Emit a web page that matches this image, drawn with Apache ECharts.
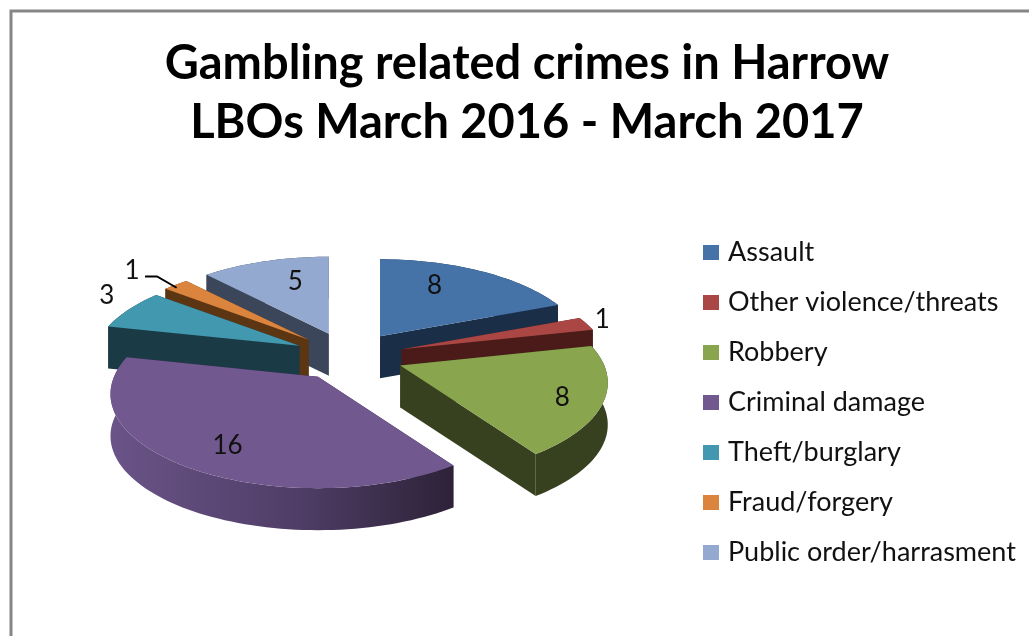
<!DOCTYPE html>
<html><head><meta charset="utf-8">
<style>html,body{margin:0;padding:0;background:#fff}#c{width:1029px;height:636px}</style>
<script src="https://cdn.jsdelivr.net/npm/echarts@6/dist/echarts.min.js"></script>
</head><body><div id="c"></div>
<script>
const titleText = 'Gambling related crimes in Harrow\nLBOs March 2016 - March 2017';
const categories = ['Assault','Other violence/threats','Robbery','Criminal damage','Theft/burglary','Fraud/forgery','Public order/harrasment'];
const values = [8,1,8,16,3,1,5];

const topColors  = ['#4572a7','#aa4643','#89a54e','#71588f','#4198af','#db843d','#93a9cf'];
const sideColors = ['#1a2e47','#4a1b19','#38411f','#2f2340','#1a3a45','#5c3613','#3c465a'];
// label placement: radial fraction of the rim, angular shift in degrees
const labelRadial = [0.685,1.1,0.816,0.77,1.22,1.34,0.665];
const labelShift  = [-8.6,-1,2.4,-3.9,4.8,-1.5,5.4];

const CX=349, CY=356.5, RX=204, RY=91, K=0.183, EXPLODE=0.27, DEPTH=42;
const total = values.reduce((a,b)=>a+b,0);
const starts=[]; values.reduce((acc,v,i)=>{starts[i]=acc; return acc+v;},0);
const toAngle = v => v/total*2*Math.PI;

function project(ang, r, mid){
  const u=Math.sin(ang)*r, v=-Math.cos(ang)*r, s=1/(1-K*v);
  const ux=Math.sin(mid)*EXPLODE, vy=-Math.cos(mid)*EXPLODE;
  return [CX+RX*(ux+u*s), CY+RY*(vy+v*s)];
}
function sliceChildren(i){
  const a0=toAngle(starts[i]), a1=toAngle(starts[i]+values[i]), mid=(a0+a1)/2;
  const apex=project(mid,0,mid), rim=[];
  const n=Math.max(6,Math.ceil((a1-a0)/0.03));
  for(let j=0;j<=n;j++) rim.push(project(a0+(a1-a0)*j/n,1,mid));
  const down=p=>[p[0],p[1]+DEPTH];
  const fillSide = (i===3)
    ? new echarts.graphic.LinearGradient(0,0,1,0,[{offset:0,color:'#6a5488'},{offset:0.55,color:'#4f3d66'},{offset:1,color:'#2d2238'}])
    : sideColors[i];
  const ch=[];
  const side=pts=>({type:'polygon',shape:{points:pts},style:{fill:sideColors[i]}});
  ch.push(side([apex,rim[0],down(rim[0]),down(apex)]));
  ch.push(side([apex,rim[n],down(rim[n]),down(apex)]));
  ch.push({type:'polygon',shape:{points:rim.concat(rim.slice().reverse().map(down))},style:{fill:fillSide}});
  ch.push({type:'polygon',shape:{points:[apex].concat(rim)},style:{fill:topColors[i]}});
  const lm=mid+labelShift[i]*Math.PI/180;
  const lp=project(lm,labelRadial[i],mid);
  ch.push({type:'text',z2:20,style:{x:lp[0],y:lp[1],text:String(values[i]),fill:'#111',font:'26px Lato',align:'center',verticalAlign:'middle'}});
  if(i===5){
    const tip=project(mid,1.0,mid);
    ch.push({type:'polyline',z2:20,shape:{points:[[lp[0]+13,lp[1]+6],[lp[0]+25,lp[1]+6],[tip[0]+1,tip[1]+3]]},style:{stroke:'#000',lineWidth:2,fill:null}});
  }
  return ch;
}
const rank = categories.map((_,i)=>{
  const mid=toAngle(starts[i]+values[i]/2); return -Math.cos(mid);
});
const order = rank.map((r,i)=>[r,i]).sort((a,b)=>a[0]-b[0]).map(x=>x[1]);

const series = categories.map((name,i)=>({
  type:'custom', name, coordinateSystem:'none', silent:true, clip:false, animation:false,
  z:2+order.indexOf(i),
  itemStyle:{color:topColors[i]},
  data:[values[i]],
  renderItem:()=>({type:'group',children:sliceChildren(i)})
}));

const chart=echarts.init(document.getElementById('c'),null,{renderer:'canvas'});
chart.setOption({
  animation:false,
  backgroundColor:'#fff',
  title:{text:titleText,left:522,top:29,textAlign:'center',
    textStyle:{fontFamily:'Lato',fontWeight:'bold',fontSize:47,lineHeight:59,color:'#000'}},
  legend:{orient:'vertical',left:698,top:234,itemWidth:16,itemHeight:15,itemGap:23,icon:'rect',selectedMode:false,
    data:categories,textStyle:{fontFamily:'Lato',fontSize:27,color:'#111',padding:[0,0,0,4],lineHeight:27}},
  graphic:[{type:'polyline',silent:true,shape:{points:[[11,636],[11,11],[1029,11]]},style:{stroke:'#868686',lineWidth:3,fill:null}}],
  series
});
</script></body></html>
